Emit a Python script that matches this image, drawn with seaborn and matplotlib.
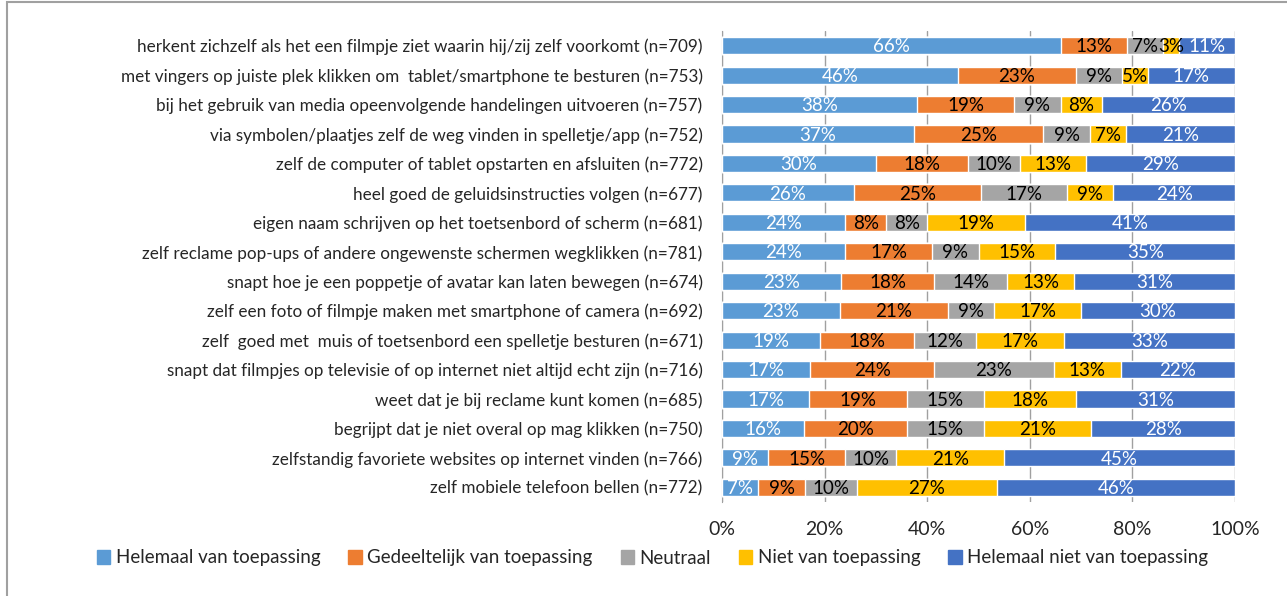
import pandas as pd
import matplotlib.pyplot as plt
import matplotlib.patches as mpatches
import seaborn as sns

# ── data ──────────────────────────────────────────────────────
items = [
    "herkent zichzelf als het een filmpje ziet waarin hij/zij zelf voorkomt (n=709)",
    "met vingers op juiste plek klikken om  tablet/smartphone te besturen (n=753)",
    "bij het gebruik van media opeenvolgende handelingen uitvoeren (n=757)",
    "via symbolen/plaatjes zelf de weg vinden in spelletje/app (n=752)",
    "zelf de computer of tablet opstarten en afsluiten (n=772)",
    "heel goed de geluidsinstructies volgen (n=677)",
    "eigen naam schrijven op het toetsenbord of scherm (n=681)",
    "zelf reclame pop-ups of andere ongewenste schermen wegklikken (n=781)",
    "snapt hoe je een poppetje of avatar kan laten bewegen (n=674)",
    "zelf een foto of filmpje maken met smartphone of camera (n=692)",
    "zelf  goed met  muis of toetsenbord een spelletje besturen (n=671)",
    "snapt dat filmpjes op televisie of op internet niet altijd echt zijn (n=716)",
    "weet dat je bij reclame kunt komen (n=685)",
    "begrijpt dat je niet overal op mag klikken (n=750)",
    "zelfstandig favoriete websites op internet vinden (n=766)",
    "zelf mobiele telefoon bellen (n=772)",
]
categories = ["Helemaal van toepassing", "Gedeeltelijk van toepassing", "Neutraal",
              "Niet van toepassing", "Helemaal niet van toepassing"]

helemaal = [66, 46, 38, 37, 30, 26, 24, 24, 23, 23, 19, 17, 17, 16, 9, 7]
gedeeltelijk = [13, 23, 19, 25, 18, 25, 8, 17, 18, 21, 18, 24, 19, 20, 15, 9]
neutraal = [7, 9, 9, 9, 10, 17, 8, 9, 14, 9, 12, 23, 15, 15, 10, 10]
niet = [3, 5, 8, 7, 13, 9, 19, 15, 13, 17, 17, 13, 18, 21, 21, 27]
helemaal_niet = [11, 17, 26, 21, 29, 24, 41, 35, 31, 30, 33, 22, 31, 28, 45, 46]

colors = ["#5B9BD5", "#ED7D31", "#A5A5A5", "#FFC000", "#4472C4"]
text_colors = ["white", "black", "black", "black", "white"]

# ── build table ───────────────────────────────────────────────
df = pd.DataFrame({
    "item": items,
    categories[0]: helemaal,
    categories[1]: gedeeltelijk,
    categories[2]: neutraal,
    categories[3]: niet,
    categories[4]: helemaal_niet,
})
totals = df[categories].sum(axis=1)
shares = df[categories].div(totals, axis=0)
cum = shares.cumsum(axis=1)

sns.set_style("white")
plt.rcParams["font.family"] = ["Lato", "DejaVu Sans"]

fig = plt.figure(figsize=(12.87, 5.96), dpi=100)
ax = fig.add_axes([722 / 1287, 1 - 502 / 596, 513 / 1287, 471 / 596])

# stacked bars: draw cumulative layers from the back to the front
for i in range(len(categories) - 1, -1, -1):
    sns.barplot(x=cum[categories[i]], y=df["item"], orient="h", color=colors[i],
                width=0.58, saturation=1, ax=ax, zorder=3)

# segment labels
for i, cat in enumerate(categories):
    for r in range(len(df)):
        mid = cum[cat].iloc[r] - shares[cat].iloc[r] / 2
        ax.text(mid, r + 0.04, f"{df[cat].iloc[r]}%", ha="center", va="center",
                color=text_colors[i], fontsize=13.5, zorder=4)

ax.set_xlim(0, 1)
ax.set_ylim(len(df) - 0.5, -0.5)
ax.set_xticks([0, 0.2, 0.4, 0.6, 0.8, 1.0])
ax.set_xticklabels(["0%", "20%", "40%", "60%", "80%", "100%"], fontsize=14)
ax.tick_params(axis="x", length=0, pad=14)
ax.tick_params(axis="y", length=0, pad=14, labelsize=12.3)
ax.xaxis.grid(True, color="#A0A0A0", linewidth=1, zorder=0)
ax.set_axisbelow(True)
for side in ["top", "right", "bottom"]:
    ax.spines[side].set_visible(False)
ax.spines["left"].set_color("#A0A0A0")
ax.set_xlabel("")
ax.set_ylabel("")

handles = [mpatches.Patch(color=c, label=l) for c, l in zip(colors, categories)]
fig.legend(handles=handles, loc="center", bbox_to_anchor=(0.507, 1 - 558 / 596), ncol=5,
           frameon=False, fontsize=13.5, handlelength=0.7, handleheight=0.7,
           handletextpad=0.3, columnspacing=1.5)

# chart border
fig.patches.append(mpatches.Rectangle((7 / 1287, -0.01), 1.02, 1 - 2 / 596 + 0.01,
                                      transform=fig.transFigure, fill=False,
                                      edgecolor="#A0A0A0", linewidth=1.5))

fig.savefig("out.png", dpi=100)
